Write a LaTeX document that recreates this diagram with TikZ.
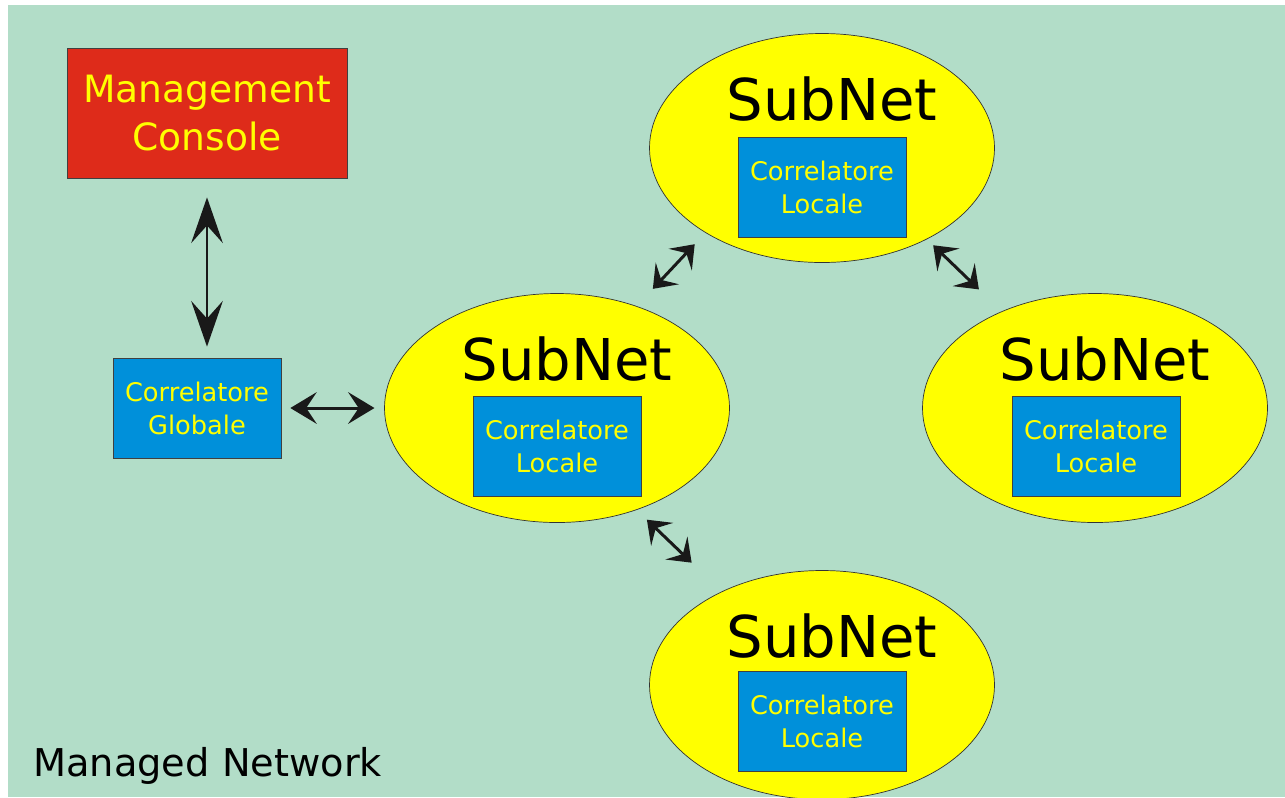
\documentclass[tikz,border=0pt]{standalone}
\usepackage{fontspec}
\setsansfont{DejaVu Sans}
\usetikzlibrary{arrows.meta,shapes.geometric}
\definecolor{net}{HTML}{B2DDC8}
\definecolor{sub}{HTML}{FFFF00}
\definecolor{cor}{HTML}{0090DA}
\definecolor{con}{HTML}{DE2B1A}
\definecolor{txt}{HTML}{FFFF00}

\begin{document}
\begin{tikzpicture}[x=0.2mm,y=-0.2mm,
    subnet/.style={ellipse,draw=black!80,fill=sub,line width=0.4pt,minimum width=69mm,minimum height=45.8mm,inner sep=0pt,outer sep=0pt},
    corr/.style={rectangle,draw=black!75,fill=cor,line width=0.4pt,minimum width=33.6mm,minimum height=20mm,align=center,text=txt,font=\sffamily\fontsize{14.6}{18.8}\selectfont},
    sublbl/.style={font=\sffamily\fontsize{32.8}{36}\selectfont},
    dbl/.style={{Stealth[length=12pt,width=18pt,inset=5pt]}-{Stealth[length=12pt,width=18pt,inset=5pt]},line width=1.7pt,black!90},
]
\useasboundingbox (0,0) rectangle (1285,797);
\fill[net] (8,5) rectangle (1285,797);

% Console and global correlator
\node[rectangle,draw=black!75,fill=con,minimum width=56mm,minimum height=26mm,align=center,text=txt,font=\sffamily\fontsize{21.4}{27.3}\selectfont] (mc) at (207,113) {Management\\Console};
\node[corr] (cg) at (197,408) {Correlatore\\Globale};

% Subnets with local correlators
\node[subnet] (sn1) at (822,148) {};
\node[sublbl] (t1) at (832,99) {SubNet};
\node[corr] (c1) at (822,187) {Correlatore\\Locale};

\node[subnet] (sn2) at (557,408) {};
\node[sublbl] (t2) at (567,359) {SubNet};
\node[corr] (c2) at (557,446) {Correlatore\\Locale};

\node[subnet] (sn3) at (1095,408) {};
\node[sublbl] (t3) at (1105,359) {SubNet};
\node[corr] (c3) at (1096,446) {Correlatore\\Locale};

\node[subnet] (sn4) at (822,685) {};
\node[sublbl] (t4) at (832,636) {SubNet};
\node[corr] (c4) at (822,721) {Correlatore\\Locale};

\node[anchor=base west,inner sep=0pt,font=\sffamily\fontsize{21.8}{25}\selectfont] (mn) at (33,776) {Managed Network};

% Links
\draw[dbl,{Stealth[length=26pt,width=18pt,inset=10pt]}-{Stealth[length=26pt,width=18pt,inset=10pt]},shorten <=3.8mm,shorten >=2.2mm] (mc.south) -- (mc.south |- cg.north);
\draw[dbl,{Stealth[length=15pt,width=18pt,inset=6pt]}-{Stealth[length=15pt,width=18pt,inset=6pt]},shorten <=1.8mm,shorten >=2mm] (cg.east) -- (sn2.west);
\draw[dbl,shorten <=4.8mm,shorten >=3.2mm] (sn2.52.6) -- (sn1.216.7);
\draw[dbl,shorten <=1.8mm,shorten >=6.4mm] (sn1.319.1) -- (sn3.134.7);
\draw[dbl,shorten <=2.9mm,shorten >=8.4mm] (sn2.308) -- (sn4.137.9);
\end{tikzpicture}
\end{document}
